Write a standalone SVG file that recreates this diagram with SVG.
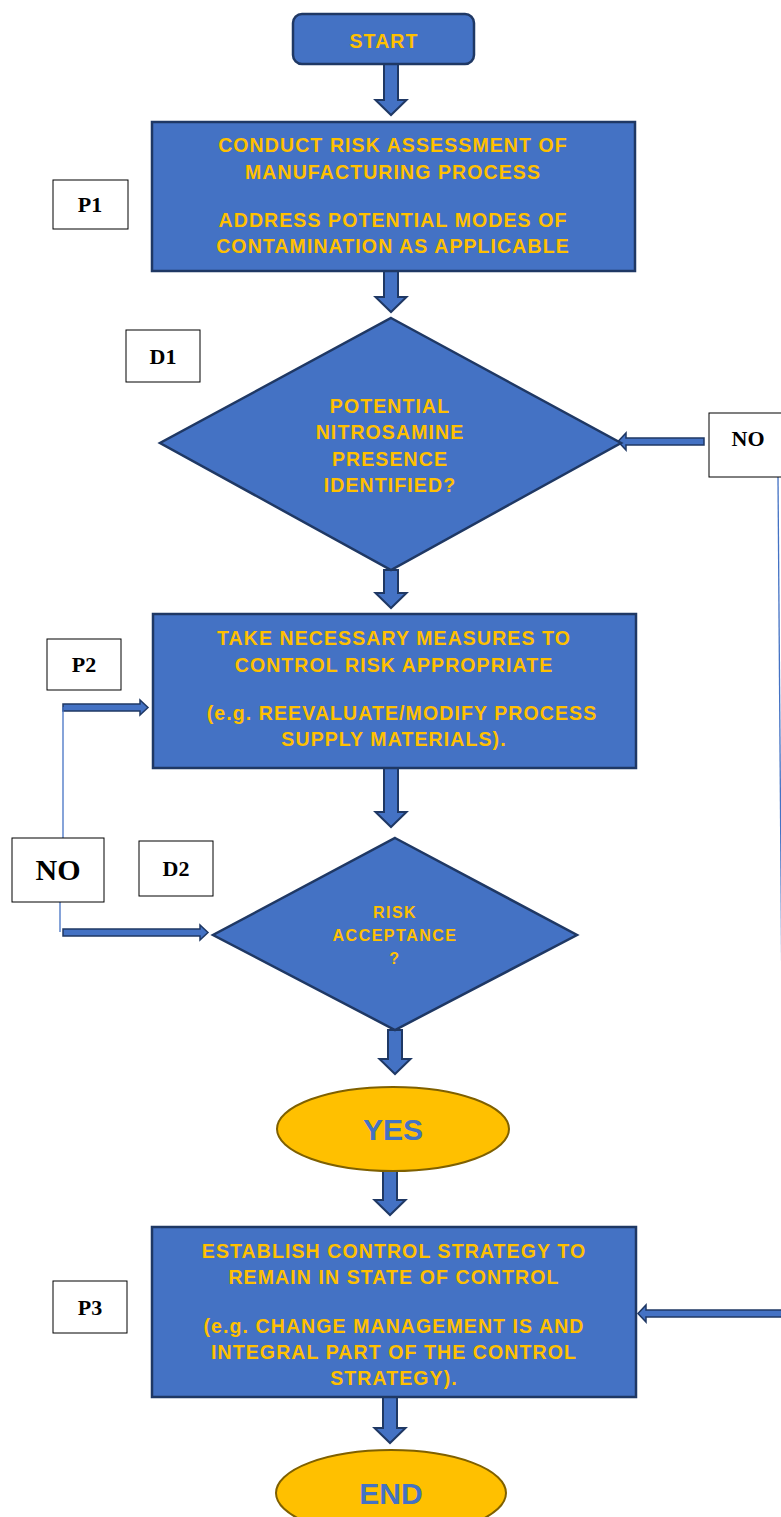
<svg xmlns="http://www.w3.org/2000/svg" width="781" height="1517" viewBox="0 0 781 1517">
<style>
.node{fill:#4472C4;stroke:#1F3864;stroke-width:2.5}
.t{font-family:"Liberation Sans",Arial,sans-serif;font-weight:bold;font-size:19.5px;letter-spacing:1.1px;fill:#FFC000;text-anchor:middle}
.s{font-size:16px;letter-spacing:1.5px}
.oval{fill:#FFC000;stroke:#7F6000;stroke-width:2}
.ot{font-family:"Liberation Sans",Arial,sans-serif;font-weight:bold;font-size:30px;fill:#4472C4;text-anchor:middle}
.lab{fill:#fff;stroke:#000;stroke-width:1}
.lt{font-family:"Liberation Serif","Times New Roman",serif;font-weight:bold;font-size:22px;fill:#000;text-anchor:middle}
.ba{fill:#4472C4;stroke:#1F3864;stroke-width:2;stroke-linejoin:miter}
.ha{fill:#4472C4;stroke:#1F3864;stroke-width:1.5}
.thin{fill:none;stroke:#4472C4;stroke-width:1.3}
</style>
<g id="connectors">
<polygon class="ba" points="384,64 398,64 398,100 406.5,100 391,115 375.5,100 384,100"/>
<polygon class="ba" points="384,271 398,271 398,297 406.5,297 391,312 375.5,297 384,297"/>
<polygon class="ba" points="384,570 398,570 398,593 406.5,593 391,608 375.5,593 384,593"/>
<polygon class="ba" points="384,768 398,768 398,812 406.5,812 391,827 375.5,812 384,812"/>
<polygon class="ba" points="388,1030 402,1030 402,1059 410.5,1059 395,1074 379.5,1059 388,1059"/>
<polygon class="ba" points="383,1171 397,1171 397,1200 405.5,1200 390,1215 374.5,1200 383,1200"/>
<polygon class="ba" points="383,1397 397,1397 397,1428 405.5,1428 390,1443 374.5,1428 383,1428"/>
<polygon class="ha" points="704,438 626,438 626,433 618,441.5 626,450 626,445 704,445"/>
<polygon class="ha" points="63,704 140,704 140,700 148,707.5 140,715 140,711 63,711"/>
<polygon class="ha" points="63,929 200,929 200,925 208,932.5 200,940 200,936 63,936"/>
<polygon class="ha" points="790,1310 646,1310 646,1305 638,1313.5 646,1322 646,1317 790,1317"/>
<line class="thin" x1="63" y1="707" x2="63" y2="838"/>
<line class="thin" x1="60" y1="902" x2="60" y2="932"/>
<line class="thin" x1="778" y1="477" x2="782" y2="1010"/>
</g>
<g id="start">
<rect class="node" x="293" y="14" width="181" height="50" rx="9"/>
<text class="t" x="384" y="48">START</text>
</g>
<g id="p1">
<rect class="node" x="152" y="122" width="483" height="149"/>
<text class="t" x="393" y="152">CONDUCT RISK ASSESSMENT OF</text>
<text class="t" x="393" y="179">MANUFACTURING PROCESS</text>
<text class="t" x="393" y="227">ADDRESS POTENTIAL MODES OF</text>
<text class="t" x="393" y="253">CONTAMINATION AS APPLICABLE</text>
</g>
<g id="p1-label">
<rect class="lab" x="53" y="180" width="75" height="49"/>
<text class="lt" x="90" y="212">P1</text>
</g>
<g id="d1">
<polygon class="node" points="391,318 621,443 391,570 160,443"/>
<text class="t" x="390" y="413">POTENTIAL</text>
<text class="t" x="390" y="439">NITROSAMINE</text>
<text class="t" x="390" y="466">PRESENCE</text>
<text class="t" x="390" y="492">IDENTIFIED?</text>
</g>
<g id="d1-label">
<rect class="lab" x="126" y="330" width="74" height="52"/>
<text class="lt" x="163" y="364">D1</text>
</g>
<g id="no1-label">
<rect class="lab" x="709" y="413" width="80" height="64"/>
<text class="lt" x="748" y="446">NO</text>
</g>
<g id="p2">
<rect class="node" x="153" y="614" width="483" height="154"/>
<text class="t" x="394" y="645">TAKE NECESSARY MEASURES TO</text>
<text class="t" x="394" y="672">CONTROL RISK APPROPRIATE</text>
<text class="t" x="402" y="720">(e.g. REEVALUATE/MODIFY PROCESS</text>
<text class="t" x="394" y="746">SUPPLY MATERIALS).</text>
</g>
<g id="p2-label">
<rect class="lab" x="47" y="639" width="74" height="51"/>
<text class="lt" x="84" y="672">P2</text>
</g>
<g id="d2">
<polygon class="node" points="395,838 577,935 395,1030 213,935"/>
<text class="t s" x="395" y="918">RISK</text>
<text class="t s" x="395" y="941">ACCEPTANCE</text>
<text class="t s" x="395" y="964">?</text>
</g>
<g id="d2-label">
<rect class="lab" x="139" y="841" width="74" height="55"/>
<text class="lt" x="176" y="876">D2</text>
</g>
<g id="no2-label">
<rect class="lab" x="12" y="838" width="92" height="64"/>
<text class="lt" x="58" y="880" style="font-size:30px">NO</text>
</g>
<g id="yes">
<ellipse class="oval" cx="393" cy="1129" rx="116" ry="42"/>
<text class="ot" x="393" y="1140">YES</text>
</g>
<g id="p3">
<rect class="node" x="152" y="1227" width="484" height="170"/>
<text class="t" x="394" y="1258">ESTABLISH CONTROL STRATEGY TO</text>
<text class="t" x="394" y="1284">REMAIN IN STATE OF CONTROL</text>
<text class="t" x="394" y="1333">(e.g. CHANGE MANAGEMENT IS AND</text>
<text class="t" x="394" y="1359">INTEGRAL PART OF THE CONTROL</text>
<text class="t" x="394" y="1385">STRATEGY).</text>
</g>
<g id="p3-label">
<rect class="lab" x="53" y="1281" width="74" height="52"/>
<text class="lt" x="90" y="1315">P3</text>
</g>
<g id="end">
<ellipse class="oval" cx="391" cy="1493" rx="115" ry="43"/>
<text class="ot" x="391" y="1504">END</text>
</g>
</svg>
